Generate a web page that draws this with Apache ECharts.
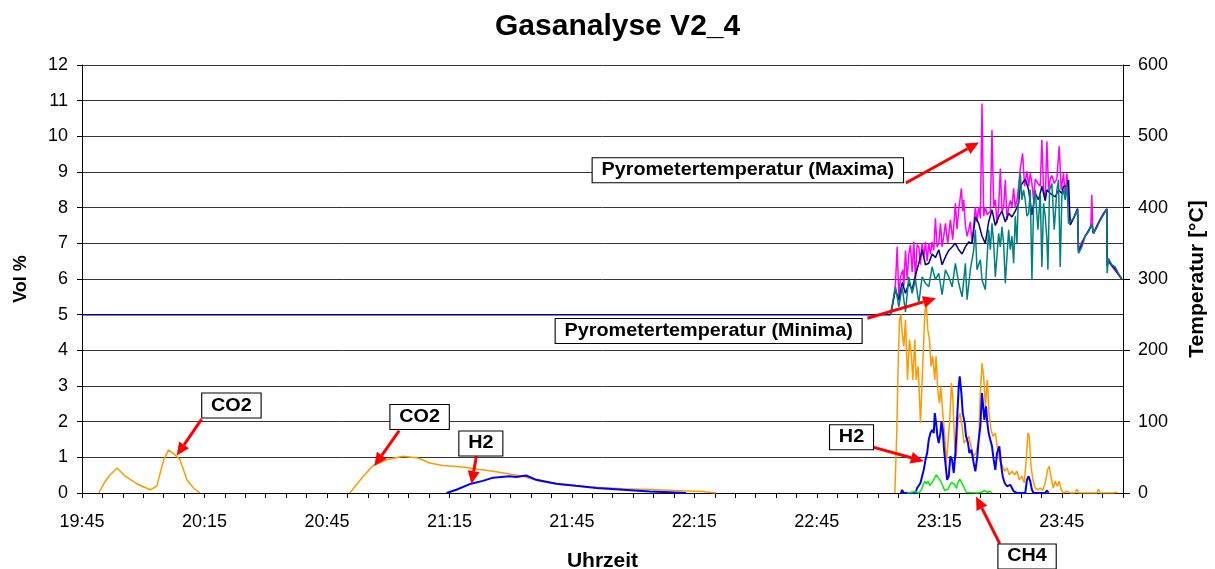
<!DOCTYPE html>
<html>
<head>
<meta charset="utf-8">
<script src="https://cdn.jsdelivr.net/npm/echarts@6/dist/echarts.min.js"></script>
<style>
  html, body { margin: 0; padding: 0; background: #fff; }
  #chart { width: 1215px; height: 569px; }
</style>
</head>
<body>
<div id="chart"></div>
<script>
// Time is given in minutes after 19:45; '-' marks a gap in a measurement.
const xTickLabels = ['19:45', '20:15', '20:45', '21:15', '21:45', '22:15', '22:45', '23:15', '23:45'];

// Gas concentrations [Vol %]
const co2 = [
  [4.1, 0], [5.7, 0.33], [6.9, 0.51], [8.6, 0.70], [10.6, 0.47], [13.4, 0.26], [16.7, 0.09],
  [18.3, 0.19], [20.0, 0.93], [21.2, 1.21], [22.8, 1.07], [24.0, 0.93], [25.7, 0.37], [27.3, 0.14], [28.9, 0],
  [29.0, '-'],
  [65.6, 0], [68.9, 0.47], [71.3, 0.77], [74.6, 0.93], [78.6, 1.03], [82.3, 0.98], [85.2, 0.84],
  [88.4, 0.77], [93.3, 0.73], [96.6, 0.67], [100.7, 0.61], [104.7, 0.53], [108.0, 0.47], [112.1, 0.33],
  [117.8, 0.23], [124.3, 0.17], [132.5, 0.12], [140.6, 0.09], [147.1, 0.06], [152.0, 0.04], [155.3, 0],
  [155.4, '-'],
  [199.11, 0], [199.60, 1.77], [199.93, 3.64], [200.25, 4.86], [200.58, 5.0], [200.90, 4.48], [201.31, 4.11],
  [201.72, 4.86], [202.21, 3.17], [202.70, 4.30], [203.19, 3.83], [203.51, 3.17], [204.00, 4.30], [204.33, 3.17],
  [204.82, 3.55], [205.39, 1.96], [205.96, 3.64], [206.45, 5.04], [206.77, 5.37], [207.18, 4.58], [207.59, 4.30],
  [208.00, 3.55], [208.40, 3.83], [208.89, 3.17], [209.22, 3.83], [209.63, 2.89], [210.03, 2.52], [210.36, 2.99],
  [210.85, 2.24], [211.34, 1.59], [211.74, 0.84], [212.15, 0.79], [212.56, 2.05], [212.97, 3.08], [213.29, 2.71],
  [213.78, 1.31], [214.19, 1.03], [214.60, 2.05], [215.09, 2.24], [215.58, 1.87], [216.06, 1.40], [216.63, 1.49],
  [217.20, 1.59], [217.78, 1.31], [218.35, 1.03], [219.00, 1.12], [219.65, 1.49], [220.06, 2.80], [220.46, 3.64],
  [220.87, 3.27], [221.28, 2.43], [221.77, 3.17], [222.18, 2.24], [222.67, 1.77], [223.15, 1.59], [223.73, 1.68],
  [224.21, 1.31], [224.70, 0.93], [225.35, 0.79], [226.01, 0.61], [226.58, 0.70], [227.15, 0.51], [227.80, 0.61],
  [228.45, 0.51], [229.02, 0.61], [229.59, 0.37], [230.24, 0.47], [230.82, 0.28], [231.30, 0.93], [231.71, 1.68],
  [232.04, 1.59], [232.45, 0.75], [232.93, 0.37], [233.51, 0.14], [234.16, 0.09], [234.73, 0.14], [235.30, 0.07],
  [235.95, 0.28], [236.52, 0.65], [236.93, 0.75], [237.42, 0.42], [237.91, 0.14], [238.39, 0.33], [238.88, 0.19],
  [239.37, 0.33], [239.86, 0.09], [240.43, 0], [241.25, 0.05], [242.06, 0], [243.28, 0], [243.69, 0.11],
  [244.10, 0], [248.58, 0], [248.99, 0.11], [249.40, 0], [251.84, 0], [252.25, 0.04], [252.66, 0],
  [253.23, 0.02], [253.72, 0]
];

const h2 = [
  [89.3, 0], [91.7, 0.09], [95.0, 0.25], [98.2, 0.34], [100.7, 0.43], [104.7, 0.47], [106.4, 0.45],
  [108.8, 0.49], [111.3, 0.37], [116.2, 0.26], [121.0, 0.20], [126.0, 0.14], [132.5, 0.09], [139.0, 0.04],
  [143.9, 0.02], [148.0, 0],
  [148.1, '-'],
  [200.6, 0], [200.9, 0.09], [201.23, 0], [204.16, 0], [204.57, 0.14], [204.98, 0.09], [205.39, 0.28],
  [205.79, 0.47], [206.20, 0.65], [206.61, 0.93], [207.02, 1.12], [207.42, 1.49], [207.83, 1.68], [208.24, 1.77],
  [208.65, 1.68], [208.89, 2.24], [209.22, 1.96], [209.54, 1.59], [209.87, 1.40], [210.28, 1.68], [210.52, 2.01],
  [210.85, 1.77], [211.17, 1.21], [211.50, 0.84], [211.91, 0.37], [212.31, 0.47], [212.72, 1.03], [213.13, 0.93],
  [213.54, 0.56], [213.94, 1.12], [214.35, 2.05], [214.76, 2.99], [215.00, 3.27], [215.41, 2.80], [215.74, 2.24],
  [216.23, 1.96], [216.55, 1.59], [217.04, 1.40], [217.37, 1.12], [217.86, 1.21], [218.43, 0.84], [218.83, 0.61],
  [219.32, 1.03], [219.65, 1.49], [220.06, 1.87], [220.46, 2.80], [220.71, 2.75], [221.04, 2.05], [221.44, 2.43],
  [221.77, 1.96], [222.09, 1.68], [222.50, 1.49], [222.91, 1.31], [223.32, 0.93], [223.73, 0.65], [224.13, 1.12],
  [224.70, 1.31], [225.19, 0.75], [225.52, 0.47], [226.01, 0.28], [226.58, 0.19], [227.39, 0.23], [228.21, 0.05],
  [229.02, 0], [231.06, 0], [231.47, 0.37], [231.88, 0.47], [232.28, 0.33], [232.69, 0.09], [233.10, 0],
  [235.95, 0], [236.36, 0.07], [236.77, 0]
];

const ch4 = [
  [202.13, 0], [204.16, 0.04], [204.98, 0], [205.63, 0.09], [206.04, 0.23], [206.45, 0.33], [206.85, 0.26],
  [207.26, 0.32], [207.67, 0.21], [208.08, 0.28], [208.48, 0.34], [208.89, 0.43], [209.30, 0.51], [209.71, 0.49],
  [210.11, 0.37], [210.52, 0.28], [210.93, 0.17], [211.34, 0.07], [211.74, 0.03], [212.15, 0.11], [212.56, 0.21],
  [212.97, 0.30], [213.37, 0.34], [213.78, 0.24], [214.19, 0.13], [214.60, 0.30], [215.00, 0.39], [215.41, 0.34],
  [215.82, 0.22], [216.23, 0.11], [216.63, 0.02], [217.04, 0], [219.24, 0], [219.65, 0.05], [220.30, 0.02],
  [221.12, 0.07], [221.77, 0.02], [222.34, 0.05], [222.91, 0]
];

// Pyrometer temperatures [°C]
const tempMax = [
  [198.05, 250], [198.62, 265], [199.27, 294], [199.68, 345], [200.09, 275], [200.50, 303], [201.07, 313],
  [201.31, 290], [201.72, 340], [202.13, 300], [202.53, 335], [202.94, 348], [203.35, 310], [203.76, 352],
  [204.16, 300], [204.57, 348], [204.98, 345], [205.39, 320], [205.79, 350], [206.20, 330], [206.61, 352],
  [207.02, 325], [207.42, 350], [207.83, 335], [208.24, 352], [208.65, 340], [209.05, 385], [209.46, 345],
  [209.87, 350], [210.28, 378], [210.69, 345], [211.09, 360], [211.50, 378], [212.07, 350], [212.72, 383],
  [213.29, 355], [213.94, 406], [214.35, 370], [214.76, 397], [215.41, 427], [215.74, 395], [215.98, 411],
  [216.39, 375], [216.80, 360], [217.20, 369], [217.61, 380], [218.02, 350], [218.43, 375], [218.83, 401],
  [219.24, 380], [219.65, 401], [220.06, 385], [220.46, 546], [220.87, 388], [221.28, 401], [221.69, 390],
  [222.09, 388], [222.50, 395], [222.91, 509], [223.32, 401], [223.73, 411], [224.13, 378], [224.54, 400],
  [224.95, 455], [225.35, 395], [225.76, 401], [226.17, 439], [226.58, 383], [226.98, 400], [227.39, 410],
  [227.80, 401], [228.21, 427], [228.61, 400], [229.02, 411], [229.43, 430], [229.84, 455], [230.41, 476],
  [230.90, 430], [231.47, 451], [231.88, 430], [232.28, 448], [232.69, 434], [233.10, 411], [233.51, 440],
  [234.16, 434], [234.73, 430], [235.13, 495], [235.54, 425], [235.95, 410], [236.36, 493], [236.77, 425],
  [237.17, 440], [237.58, 445], [238.15, 434], [238.80, 440], [239.37, 486], [239.86, 425], [240.43, 448],
  [240.84, 415], [241.25, 448], [241.65, 448], [242.06, 376], [242.88, 385], [243.86, 399], [244.10, 341],
  [244.92, 352], [245.73, 360], [246.54, 368], [247.11, 374], [247.36, 418], [247.60, 370], [247.77, 364],
  [248.58, 375], [249.40, 384], [250.21, 392], [251.03, 399], [251.11, 329], [251.43, 324], [252.25, 318],
  [253.07, 312], [253.88, 306], [254.69, 300]
];

const tempMean = [
  [0, 250], [198.05, 250], [199.27, 285], [200.09, 270], [200.90, 295], [201.72, 280], [202.53, 294],
  [203.35, 285], [204.16, 305], [204.98, 322], [205.79, 341], [206.61, 320], [207.42, 322], [208.24, 335],
  [209.05, 330], [209.87, 341], [210.69, 320], [211.50, 331], [212.31, 340], [213.13, 345], [213.94, 350],
  [214.76, 341], [215.58, 335], [216.39, 345], [217.20, 352], [218.02, 350], [218.83, 387], [219.65, 378],
  [220.46, 360], [221.28, 350], [222.09, 380], [222.91, 397], [223.73, 375], [224.54, 387], [225.35, 395],
  [226.17, 380], [226.98, 392], [227.80, 387], [228.61, 395], [229.43, 406], [229.84, 430], [230.24, 430],
  [231.06, 440], [231.47, 439], [231.88, 425], [232.69, 390], [233.51, 420], [234.32, 411], [235.13, 430],
  [235.95, 410], [236.36, 425], [237.17, 420], [237.58, 420], [238.39, 415], [239.21, 425], [240.02, 420],
  [240.43, 430], [241.25, 430], [241.65, 439], [242.06, 376], [242.88, 385], [243.86, 398], [244.10, 338],
  [244.92, 348], [245.73, 360], [246.54, 367], [247.36, 376], [247.77, 364], [248.58, 373], [249.40, 383],
  [250.21, 391], [251.03, 398], [251.11, 318], [251.43, 326], [252.25, 319], [253.07, 314], [253.88, 307],
  [254.69, 300]
];

const tempMin = [
  [198.05, 250], [199.27, 289], [200.09, 261], [200.90, 289], [201.72, 254], [202.53, 303], [203.35, 280],
  [204.16, 299], [204.98, 266], [205.79, 303], [206.61, 294], [207.42, 289], [208.24, 317], [209.05, 299],
  [209.87, 308], [210.69, 278], [211.50, 313], [212.31, 303], [213.13, 289], [213.94, 322], [214.76, 294],
  [215.58, 275], [216.39, 322], [216.80, 271], [217.61, 313], [218.43, 341], [218.83, 369], [219.24, 313],
  [220.06, 327], [220.46, 299], [221.28, 285], [222.09, 369], [222.50, 341], [222.91, 378], [223.32, 350],
  [223.73, 303], [224.54, 364], [224.95, 345], [225.35, 373], [225.76, 350], [226.17, 294], [226.98, 369],
  [227.39, 341], [227.80, 360], [228.21, 322], [228.61, 388], [229.02, 350], [229.43, 425], [229.84, 448],
  [230.24, 411], [230.65, 425], [231.06, 411], [231.47, 388], [231.88, 392], [232.28, 425], [232.69, 299],
  [233.10, 402], [233.51, 425], [234.16, 369], [234.73, 420], [235.13, 317], [235.54, 406], [235.95, 388],
  [236.36, 355], [236.60, 313], [237.01, 425], [237.58, 434], [238.15, 369], [238.80, 425], [239.21, 439],
  [239.62, 317], [240.02, 416], [240.43, 425], [240.84, 411], [241.25, 434], [241.65, 378], [242.06, 376],
  [242.88, 385], [243.86, 397], [244.10, 336], [244.92, 345], [245.73, 360], [246.54, 366], [247.36, 378],
  [247.77, 364], [248.58, 372], [249.40, 382], [250.21, 390], [251.03, 398], [251.11, 308], [251.43, 329],
  [252.25, 320], [253.07, 317], [253.88, 308], [254.69, 300]
];

// Callouts: label anchor, arrow start and arrow tip, all in (minutes, Vol %)
const callouts = [
  { text: 'CO2', at: [36.6, 2.45], from: [29.3, 2.07], to: [23.2, 1.05] },
  { text: 'CO2', at: [82.7, 2.13], from: [77.7, 1.75], to: [71.6, 0.76] },
  { text: 'H2', at: [97.7, 1.39], from: [96.6, 1.03], to: [95.4, 0.25] },
  { text: 'Pyrometertemperatur (Maxima)', at: [163.1, 9.05], from: [201.8, 8.69], to: [219.7, 9.83] },
  { text: 'Pyrometertemperatur (Minima)', at: [153.5, 4.54], from: [192.4, 4.90], to: [209.2, 5.46] },
  { text: 'H2', at: [188.5, 1.56], from: [193.3, 1.30], to: [206.2, 0.89] },
  { text: 'CH4', at: [231.5, -1.78], from: [224.8, -1.42], to: [219.0, -0.10] }
];

const FONT = '"Liberation Sans", Arial, Helvetica, sans-serif';

function line(name, data, color, width, yAxisIndex) {
  return {
    name, type: 'line', data, yAxisIndex,
    showSymbol: false, symbol: 'none', connectNulls: false,
    lineStyle: { color, width }, itemStyle: { color },
    emphasis: { disabled: true }, silent: true
  };
}

const chart = echarts.init(document.getElementById('chart'), null, { renderer: 'canvas' });

chart.setOption({
  animation: false,
  backgroundColor: '#fff',
  title: {
    text: 'Gasanalyse V2_4',
    left: 490, top: 7,
    textStyle: { fontFamily: FONT, fontSize: 30, fontWeight: 'bold', color: '#000' }
  },
  grid: { left: 82, right: 92, top: 65, bottom: 76, containLabel: false, outerBoundsMode: 'none' },
  xAxis: {
    type: 'value', min: 0, max: 255, interval: 5,
    name: 'Uhrzeit', nameLocation: 'middle', nameGap: 58,
    nameTextStyle: { fontFamily: FONT, fontSize: 21, fontWeight: 'bold', color: '#000' },
    axisLine: { show: true, onZero: false, lineStyle: { color: '#000', width: 1 } },
    axisTick: { show: true, inside: false, length: 5, lineStyle: { color: '#000' } },
    axisLabel: {
      fontFamily: FONT, fontSize: 18, color: '#000', margin: 20,
      formatter: v => (v % 30 === 0 ? xTickLabels[v / 30] : '')
    },
    splitLine: { show: false }
  },
  yAxis: [
    {
      type: 'value', min: 0, max: 12, interval: 1, position: 'left',
      name: 'Vol %', nameLocation: 'middle', nameRotate: 90, nameGap: 52,
      nameTextStyle: { fontFamily: FONT, fontSize: 18, fontWeight: 'bold', color: '#000' },
      axisLine: { show: true, lineStyle: { color: '#000', width: 1 } },
      axisTick: { show: true, inside: false, length: 5, lineStyle: { color: '#000' } },
      axisLabel: { fontFamily: FONT, fontSize: 18, color: '#000', margin: 14 },
      splitLine: { show: true, lineStyle: { color: '#333', width: 1 } }
    },
    {
      type: 'value', min: 0, max: 600, interval: 100, position: 'right',
      name: 'Temperatur [°C]', nameLocation: 'middle', nameRotate: 90, nameGap: 64,
      nameTextStyle: { fontFamily: FONT, fontSize: 21, fontWeight: 'bold', color: '#000' },
      axisLine: { show: true, lineStyle: { color: '#000', width: 1 } },
      axisTick: { show: true, inside: false, length: 7, lineStyle: { color: '#000' } },
      axisLabel: { fontFamily: FONT, fontSize: 18, color: '#000', margin: 15 },
      splitLine: { show: false }
    }
  ],
  series: [
    line('CO2', co2, '#FF9900', 1.5, 0),
    line('H2', h2, '#0000FF', 2, 0),
    line('CH4', ch4, '#00EE00', 1.5, 0),
    line('Pyrometertemperatur (Maxima)', tempMax, '#FF00FF', 1.5, 1),
    line('Pyrometertemperatur (Mittel)', tempMean, '#000080', 1.5, 1),
    line('Pyrometertemperatur (Minima)', tempMin, '#008080', 1.5, 1)
  ]
});

// Callout boxes and red arrows, placed through the axes' scales
function toPx(p) {
  return [
    chart.convertToPixel({ xAxisIndex: 0 }, p[0]),
    chart.convertToPixel({ yAxisIndex: 0 }, p[1])
  ];
}

const graphics = [];
callouts.forEach(c => {
  const a = toPx(c.from), b = toPx(c.to), m = toPx(c.at);
  const dx = b[0] - a[0], dy = b[1] - a[1];
  const len = Math.hypot(dx, dy), ux = dx / len, uy = dy / len;
  const head = 13, half = 6;
  const bx = b[0] - ux * head, by = b[1] - uy * head;
  graphics.push({
    type: 'line', z: 100, silent: true,
    shape: { x1: a[0], y1: a[1], x2: bx, y2: by },
    style: { stroke: '#FF0000', lineWidth: 3 }
  });
  graphics.push({
    type: 'polygon', z: 100, silent: true,
    shape: { points: [[b[0], b[1]], [bx - uy * half, by + ux * half], [bx + uy * half, by - ux * half]] },
    style: { fill: '#FF0000' }
  });
  graphics.push({
    type: 'text', z: 101, silent: true, x: m[0], y: m[1], scaleX: 1.1,
    style: {
      text: c.text, x: 0, y: 0,
      font: 'bold 18px ' + FONT, fill: '#000',
      align: 'center', verticalAlign: 'middle',
      backgroundColor: '#fff', borderColor: '#000', borderWidth: 1, padding: [3, 8]
    }
  });
});
chart.setOption({ graphic: graphics });
</script>
</body>
</html>
